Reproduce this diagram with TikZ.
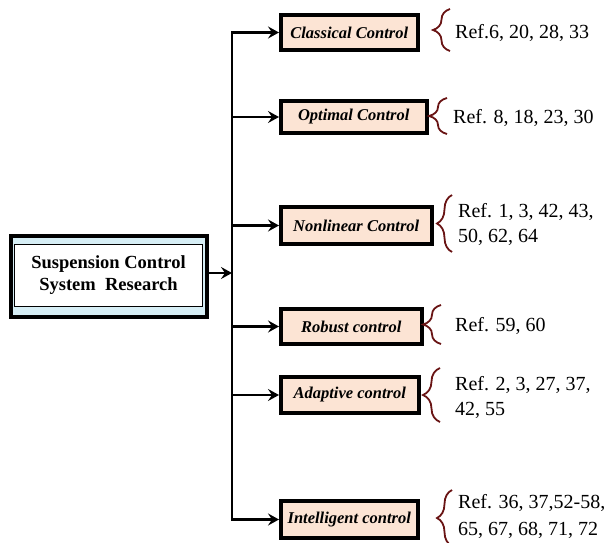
\documentclass[tikz,border=0pt]{standalone}
\usepackage{fontspec}
\setmainfont{Liberation Serif}
\usetikzlibrary{arrows.meta,decorations.pathreplacing}
\definecolor{peach}{RGB}{252,228,212}
\definecolor{lblue}{RGB}{214,238,245}
\definecolor{bracered}{RGB}{105,20,20}
\begin{document}
\begin{tikzpicture}[x=1pt,y=-1pt,
 method/.style={draw, line width=3.5pt, fill=peach, anchor=west, inner sep=0pt,
   font=\fontsize{16.5}{19}\selectfont\bfseries\itshape},
 reftext/.style={anchor=west, align=left, inner sep=0pt, font=\fontsize{20}{25}\selectfont},
 conn/.style={line width=2.6pt, line join=miter},
 arr/.style={conn, -{Stealth[length=11pt,width=12pt,inset=4pt]}},
 brc/.style={draw=bracered, line width=1.8pt, decorate, decoration={brace, amplitude=#1}},
]
\useasboundingbox (0,0) rectangle (605,543);

% main box
\node[draw, line width=4pt, fill=lblue, minimum width=196pt, minimum height=81pt, inner sep=0pt]
  (mainouter) at (109,276.5) {};
\node[draw, line width=1.5pt, fill=white, minimum width=188pt, minimum height=62pt, inner sep=0pt,
  align=center, font=\fontsize{18.5}{22}\selectfont\bfseries]
  (main) at (108.5,275.5) {Suspension Control\\System\ \ Research};

% method boxes
\node[method, minimum width=137pt, minimum height=35pt] (c1) at (279,32.5) {Classical Control};
\node[method, minimum width=146pt, minimum height=32pt] (c2) at (279,117) {Optimal Control};
\node[method, minimum width=151pt, minimum height=37pt] (c3) at (279,225.5) {Nonlinear Control};
\node[method, minimum width=141pt, minimum height=35pt] (c4) at (279,326.5) {Robust control};
\node[method, minimum width=138pt, minimum height=36pt] (c5) at (279,395) {Adaptive control};
\node[method, minimum width=137pt, minimum height=37pt] (c6) at (279,519.5) {Intelligent control};

% connectors
\coordinate (sp) at (232,273);
\draw[arr] (mainouter.east |- sp) -- (sp);
\draw[arr] (sp) |- (c1.west);
\draw[arr] (sp) |- (c6.west);
\draw[arr] (c2.west -| sp) -- (c2.west);
\draw[arr] (c3.west -| sp) -- (c3.west);
\draw[arr] (c4.west -| sp) -- (c4.west);
\draw[arr] (c5.west -| sp) -- (c5.west);

% braces
\draw[brc=17pt] (450,51) -- (450,9);
\draw[brc=18pt] (447,134) -- (447,98);
\draw[brc=15pt] (452,252) -- (452,195);
\draw[brc=18pt] (441,344) -- (441,305);
\draw[brc=17pt] (440,422) -- (440,368);
\draw[brc=15pt] (452,546) -- (452,490);

% references
\node[reftext] (t1) at (455,33) {Ref.6, 20, 28, 33};
\node[reftext] (t2) at (453,118) {Ref. 8, 18, 23, 30};
\node[reftext] (t3) at (458,224.5) {Ref. 1, 3, 42, 43,\\50, 62, 64};
\node[reftext] (t4) at (455,326) {Ref. 59, 60};
\node[reftext] (t5) at (455,397.5) {Ref. 2, 3, 27, 37,\\42, 55};
\node[reftext, font=\fontsize{20}{27}\selectfont] (t6) at (458,516) {Ref. 36, 37,52-58,\\65, 67, 68, 71, 72};
\end{tikzpicture}
\end{document}
